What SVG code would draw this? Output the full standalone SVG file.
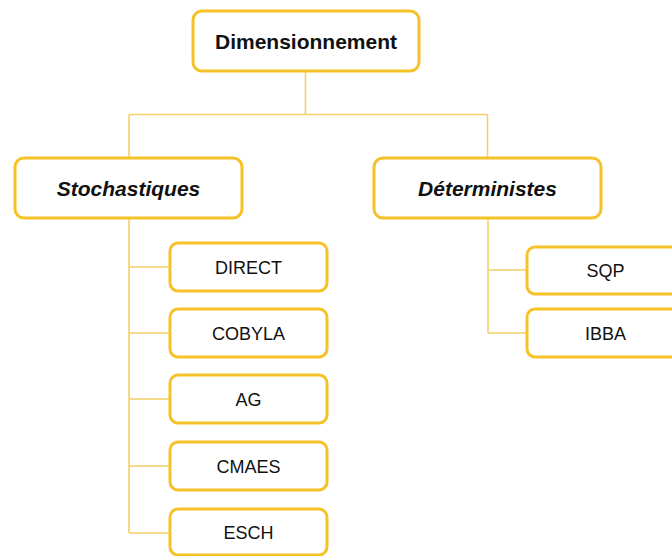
<svg xmlns="http://www.w3.org/2000/svg" width="672" height="556" viewBox="0 0 672 556">
<style>
.box{fill:#fff;stroke:#F5C228;stroke-width:3}
.conn{fill:none;stroke:#F3D06A;stroke-width:1.6}
text{font-family:"Liberation Sans",Arial,sans-serif;fill:#111;text-anchor:middle}
.h{font-size:21px;font-weight:bold}
.hi{font-size:21px;font-weight:bold;font-style:italic}
.c{font-size:18px}
</style>
<rect width="672" height="556" fill="#fff"/>
<g id="connectors">
<path class="conn" d="M305.5 71V114.5M129 114.5H487.5M129 114.5V158M487.5 114.5V158"/>
<path class="conn" d="M129 218V533M129 267H170M129 333H170M129 399H170M129 466H170M129 533H170"/>
<path class="conn" d="M488 218V333M488 270H527M488 333H527"/>
</g>
<g id="dimensionnement"><rect class="box" x="193" y="11" width="226" height="60" rx="9"/><text class="h" x="306" y="49">Dimensionnement</text></g>
<g id="stochastiques"><rect class="box" x="15" y="158" width="227" height="60" rx="9"/><text class="hi" x="128.5" y="196">Stochastiques</text></g>
<g id="deterministes"><rect class="box" x="374" y="158" width="227" height="60" rx="9"/><text class="hi" x="487.5" y="196">Déterministes</text></g>
<g id="direct"><rect class="box" x="170" y="243" width="157" height="48" rx="8"/><text class="c" x="248.5" y="273.5">DIRECT</text></g>
<g id="cobyla"><rect class="box" x="170" y="309" width="157" height="48" rx="8"/><text class="c" x="248.5" y="339.5">COBYLA</text></g>
<g id="ag"><rect class="box" x="170" y="375" width="157" height="48" rx="8"/><text class="c" x="248.5" y="405.5">AG</text></g>
<g id="cmaes"><rect class="box" x="170" y="442" width="157" height="48" rx="8"/><text class="c" x="248.5" y="472.5">CMAES</text></g>
<g id="esch"><rect class="box" x="170" y="509" width="157" height="46" rx="8"/><text class="c" x="248.5" y="539">ESCH</text></g>
<g id="sqp"><rect class="box" x="527" y="247" width="157" height="47" rx="8"/><text class="c" x="605.5" y="276.5">SQP</text></g>
<g id="ibba"><rect class="box" x="527" y="309" width="157" height="48" rx="8"/><text class="c" x="605.5" y="339.5">IBBA</text></g>
</svg>
